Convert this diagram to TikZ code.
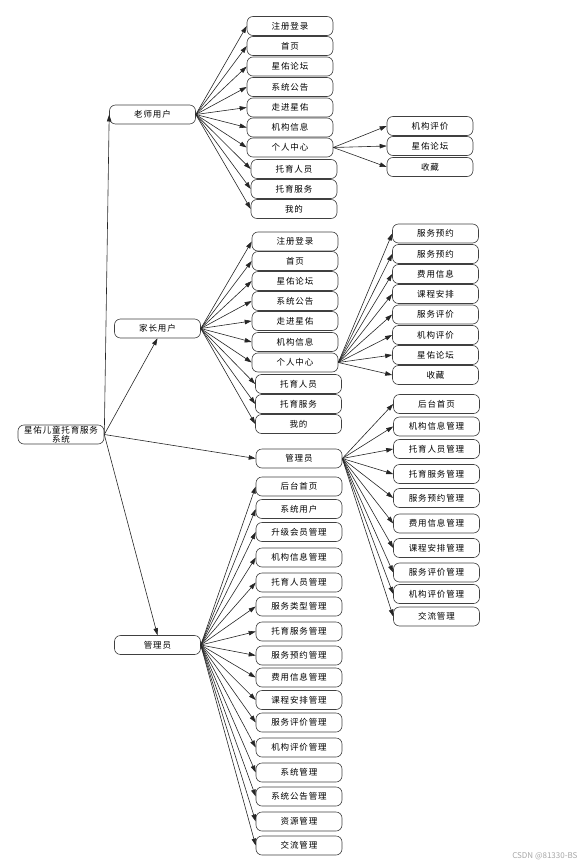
\documentclass[tikz,border=0pt]{standalone}
\usepackage{fontspec}
\newfontfamily\cjk[LetterSpace=10]{Noto Sans CJK SC}
\newfontfamily\cjkplain{Noto Sans CJK SC}
\usetikzlibrary{arrows.meta}
\begin{document}
\begin{tikzpicture}[x=1pt,y=-1pt,
  box/.style={draw=black!75, line width=0.6pt, rounded corners=6pt, fill=white,
    minimum width=86pt, minimum height=19pt, inner sep=0pt,
    font=\cjk\fontsize{8.5}{9}\selectfont},
  arr/.style={-{Triangle[length=7pt,width=4.5pt]}, line width=0.6pt, black!85}]
\useasboundingbox (0,0) rectangle (586,867);

% root
\node[box, align=center, font=\cjk\fontsize{8.5}{8.5}\selectfont] (root) at (61,434.5) {星佑儿童托育服务\\系统};

% teacher
\node[box] (t) at (152.5,114.5) {老师用户};
\draw[arr] (root.east) -- (t.west);
\foreach \x/\y/\txt [count=\i] in {290/26/注册登录, 290/46/首页, 290/66.5/星佑论坛, 290/87/系统公告, 290/107.5/走进星佑, 290/127.5/机构信息, 290/147.5/个人中心, 294/169/托育人员, 294/189/托育服务, 294/209/我的}{
  \node[box] (tc\i) at (\x,\y) {\txt};
  \draw[arr] (t.east) -- (tc\i.west);
}
\foreach \y/\txt [count=\i] in {126/机构评价, 146/星佑论坛, 167/收藏}{
  \node[box] (tp\i) at (430,\y) {\txt};
  \draw[arr] (tc7.east) -- (tp\i.west);
}

% parent
\node[box] (p) at (157.5,328.5) {家长用户};
\draw[arr] (root.east) -- (p.south);
\foreach \x/\y/\txt [count=\i] in {295/241.5/注册登录, 295/261/首页, 295/281/星佑论坛, 295/301/系统公告, 295/321/走进星佑, 295/342/机构信息, 295/362.5/个人中心, 298.5/384/托育人员, 298.5/404/托育服务, 298.5/424/我的}{
  \node[box] (pc\i) at (\x,\y) {\txt};
  \draw[arr] (p.east) -- (pc\i.west);
}
\foreach \y/\txt [count=\i] in {233.5/服务预约, 254/服务预约, 274/费用信息, 294/课程安排, 314.5/服务评价, 335/机构评价, 355/星佑论坛, 375/收藏}{
  \node[box] (pp\i) at (435.5,\y) {\txt};
  \draw[arr] (pc7.east) -- (pp\i.west);
}

% admin 1
\node[box] (a) at (299,458.5) {管理员};
\draw[arr] (root.east) -- (a.west);
\foreach \y/\txt [count=\i] in {404/后台首页, 426.5/机构信息管理, 449/托育人员管理, 474/托育服务管理, 498/服务预约管理, 523.5/费用信息管理, 548/课程安排管理, 572.5/服务评价管理, 594/机构评价管理, 616.5/交流管理}{
  \node[box] (ac\i) at (436.5,\y) {\txt};
  \draw[arr] (a.east) -- (ac\i.west);
}

% admin 2
\node[box] (b) at (157.5,645) {管理员};
\draw[arr] (root.east) -- (b.north);
\foreach \y/\txt [count=\i] in {486.5/后台首页, 509/系统用户, 532/升级会员管理, 557.5/机构信息管理, 582.5/托育人员管理, 606.5/服务类型管理, 631.5/托育服务管理, 655.5/服务预约管理, 677.5/费用信息管理, 700/课程安排管理, 722.5/服务评价管理, 747.5/机构评价管理, 772.5/系统管理, 796.5/系统公告管理, 821.5/资源管理, 845.5/交流管理}{
  \node[box] (bc\i) at (299,\y) {\txt};
  \draw[arr] (b.east) -- (bc\i.west);
}

% watermark
\node[text=black!35, font=\fontsize{8}{8}\selectfont\cjkplain, anchor=east] (wm) at (581,856) {CSDN @81330-BS};
\end{tikzpicture}
\end{document}
